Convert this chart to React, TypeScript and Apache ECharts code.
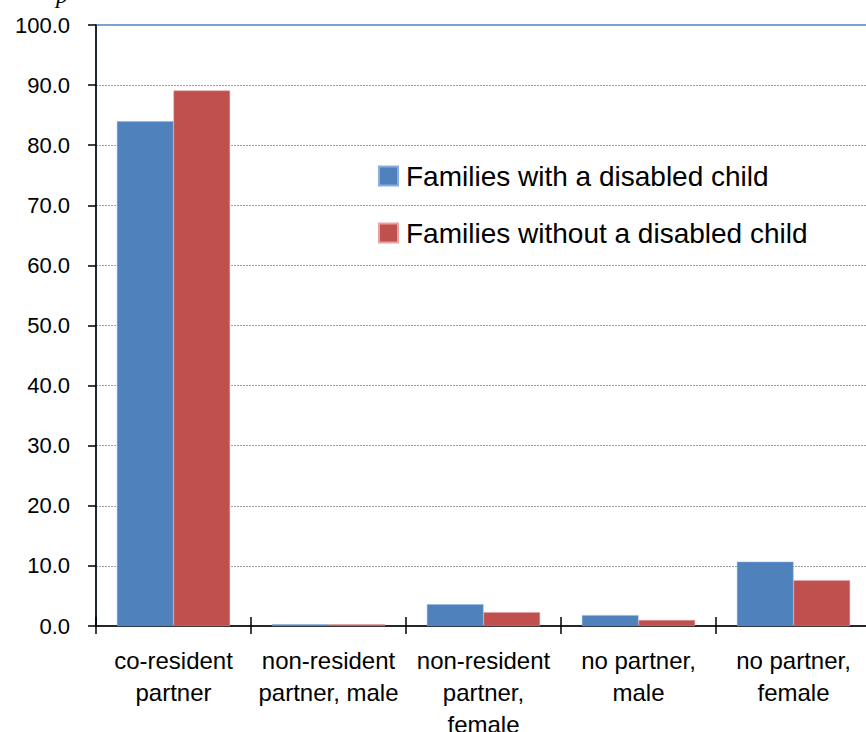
import React, { useEffect, useRef } from "react";
import * as echarts from "echarts";

const categories = [
  "co-resident\npartner",
  "non-resident\npartner, male",
  "non-resident\npartner,\nfemale",
  "no partner,\nmale",
  "no partner,\nfemale",
];
const withDisabled = [84.0, 0.3, 3.6, 1.8, 10.7];
const withoutDisabled = [89.1, 0.3, 2.3, 1.0, 7.6];
const seriesNames = ["Families with a disabled child", "Families without a disabled child"];

const FONT = "Liberation Sans";

export default function App() {
  const ref = useRef<HTMLDivElement>(null);
  useEffect(() => {
    if (!ref.current) return;
    const chart = echarts.init(ref.current, null, { renderer: "svg" });
    chart.setOption({
      animation: false,
      backgroundColor: "#ffffff",
      textStyle: { fontFamily: FONT },
      grid: {
        left: 96,
        right: -5,
        top: 25,
        bottom: 106,
        containLabel: false,
        outerBoundsMode: "none",
        show: true,
        borderColor: "#4f81bd",
        borderWidth: 1.5,
        backgroundColor: "transparent",
      },
      legend: {
        orient: "vertical",
        left: 378,
        top: 161,
        padding: 0,
        itemWidth: 19,
        itemHeight: 19,
        itemGap: 27,
        icon: "rect",
        textStyle: { fontFamily: FONT, fontSize: 28, color: "#000", lineHeight: 30, padding: [0, 0, 0, 3] },
        data: seriesNames,
      },
      xAxis: [
        {
          type: "category",
          data: categories,
          position: "bottom",
          axisLine: { show: true, lineStyle: { color: "#000", width: 1.5 } },
          axisTick: { show: true, length: 8, lineStyle: { color: "#000", width: 1.5 } },
          axisLabel: {
            color: "#000",
            fontFamily: FONT,
            fontSize: 24,
            lineHeight: 32,
            margin: 18,
            interval: 0,
            align: "center",
          },
          splitLine: { show: false },
        },
        {
          type: "category",
          data: categories,
          position: "top",
          offset: -601,
          axisLine: { show: false },
          axisTick: { show: true, length: 9, lineStyle: { color: "#000", width: 1.5 } },
          axisLabel: { show: false },
          splitLine: { show: false },
        },
      ],
      yAxis: {
        type: "value",
        min: 0,
        max: 100,
        interval: 10,
        axisLine: { show: true, lineStyle: { color: "#000", width: 1.5 } },
        axisTick: { show: true, length: 8, lineStyle: { color: "#000", width: 1.5 } },
        axisLabel: {
          color: "#000",
          fontFamily: FONT,
          fontSize: 22,
          margin: 26,
          formatter: (v: number) => v.toFixed(1),
        },
        splitLine: { show: true, lineStyle: { color: "#a0a0a0", width: 1, type: [2, 1] } },
      },
      series: [
        {
          name: seriesNames[0],
          type: "bar",
          xAxisIndex: 0,
          data: withDisabled,
          barGap: "0%",
          barCategoryGap: "27%",
          itemStyle: { color: "#4f81bd", borderColor: "#8aaee0", borderWidth: 0.5 },
        },
        {
          name: seriesNames[1],
          type: "bar",
          xAxisIndex: 0,
          data: withoutDisabled,
          barGap: "0%",
          barCategoryGap: "27%",
          itemStyle: { color: "#c0504d", borderColor: "#e3a3a1", borderWidth: 0.5 },
        },
      ],
      graphic: [
        {
          type: "text",
          left: 56,
          top: -17,
          style: { text: "p", font: "italic 24px 'Liberation Serif'", fill: "#000" },
        },
      ],
    });
    return () => chart.dispose();
  }, []);
  return (
    <div
      ref={ref}
      style={{ position: "absolute", left: 0, top: 0, width: 866, height: 732 }}
    />
  );
}
